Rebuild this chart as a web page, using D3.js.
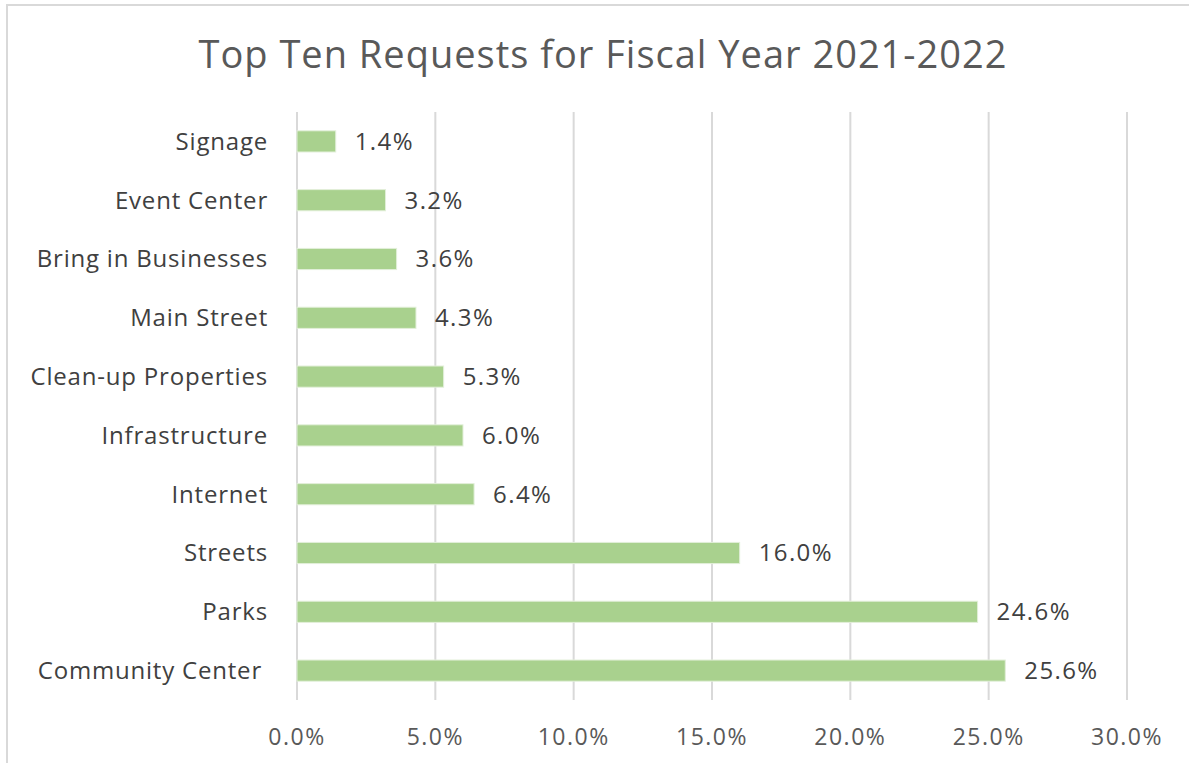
<!DOCTYPE html>
<html>
<head>
<meta charset="utf-8">
<script src="https://cdn.jsdelivr.net/npm/d3@7"></script>
<style>
  body { margin: 0; background: #fff; }
  svg { display: block; }
</style>
</head>
<body>
<script>
const categories = [
  "Signage", "Event Center", "Bring in Businesses", "Main Street",
  "Clean-up Properties", "Infrastructure", "Internet", "Streets",
  "Parks", "Community Center"
];
const values = [1.4, 3.2, 3.6, 4.3, 5.3, 6.0, 6.4, 16.0, 24.6, 25.6];
const tickValues = [0, 5, 10, 15, 20, 25, 30];
const title = "Top Ten Requests for Fiscal Year 2021-2022";

const W = 1189, H = 763;
const font = "'Open Sans', sans-serif";

const svg = d3.select("body").append("svg")
  .attr("width", W)
  .attr("height", H);

// chart frame
svg.append("rect")
  .attr("x", 7).attr("y", 5)
  .attr("width", W + 10).attr("height", H + 10)
  .attr("fill", "#fff")
  .attr("stroke", "#d9d9d9")
  .attr("stroke-width", 2);

const x = d3.scaleLinear().domain([0, 30]).range([297, 1127]);
const y = d3.scaleBand().domain(categories).range([112, 700]).paddingInner(0.64).paddingOuter(0.32);

svg.append("text")
  .attr("x", 603).attr("y", 68)
  .attr("text-anchor", "middle")
  .attr("font-family", font)
  .attr("font-size", 38)
  .attr("letter-spacing", 1)
  .attr("fill", "#595959")
  .text(title);

// gridlines
svg.append("g")
  .attr("stroke", "#d9d9d9")
  .attr("stroke-width", 2)
  .selectAll("line")
  .data(tickValues)
  .join("line")
  .attr("x1", (d) => x(d)).attr("x2", (d) => x(d))
  .attr("y1", 112).attr("y2", 700);

// x tick labels
svg.append("g")
  .attr("font-family", font)
  .attr("font-size", 23)
  .attr("letter-spacing", 1.5)
  .attr("fill", "#595959")
  .attr("text-anchor", "middle")
  .selectAll("text")
  .data(tickValues)
  .join("text")
  .attr("x", (d) => x(d))
  .attr("y", 745)
  .text((d) => d.toFixed(1) + "%");

const rows = categories.map((c, i) => ({ c, v: values[i] }));

svg.append("g")
  .selectAll("rect")
  .data(rows)
  .join("rect")
  .attr("x", x(0))
  .attr("y", (d) => y(d.c))
  .attr("width", (d) => x(d.v) - x(0))
  .attr("height", y.bandwidth())
  .attr("fill", "#a9d18e")
  .attr("stroke", "#e2efd9")
  .attr("stroke-width", 1);

// category labels
svg.append("g")
  .attr("font-family", font)
  .attr("font-size", 24)
  .attr("letter-spacing", 0.8)
  .attr("fill", "#404040")
  .attr("text-anchor", "end")
  .selectAll("text")
  .data(rows)
  .join("text")
  .attr("x", (d, i) => (i === rows.length - 1 ? 262 : 268))
  .attr("y", (d) => y(d.c) + y.bandwidth() / 2)
  .attr("dy", "0.35em")
  .text((d) => d.c);

// value labels
svg.append("g")
  .attr("font-family", font)
  .attr("font-size", 24)
  .attr("letter-spacing", 1.4)
  .attr("fill", "#404040")
  .selectAll("text")
  .data(rows)
  .join("text")
  .attr("x", (d) => x(d.v) + 19)
  .attr("y", (d) => y(d.c) + y.bandwidth() / 2)
  .attr("dy", "0.35em")
  .text((d) => d.v.toFixed(1) + "%");
</script>
</body>
</html>
